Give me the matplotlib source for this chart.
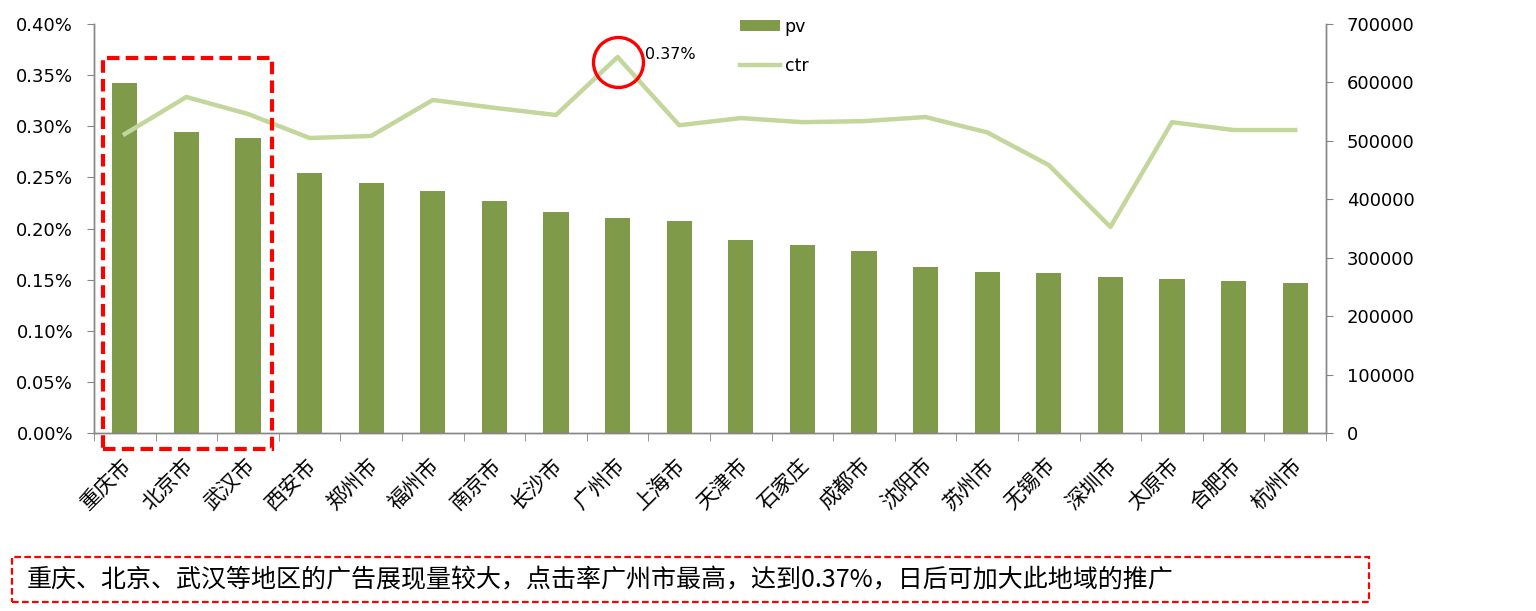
import matplotlib
matplotlib.use("Agg")
import matplotlib.pyplot as plt
from matplotlib.patches import Rectangle, Patch
from matplotlib.lines import Line2D
from matplotlib.ticker import FuncFormatter, MultipleLocator, FixedLocator
import matplotlib.transforms as mtransforms
import numpy as np

plt.rcParams['font.family'] = ['DejaVu Sans', 'Noto Sans CJK SC']

cities = ["重庆市", "北京市", "武汉市", "西安市", "郑州市", "福州市", "南京市", "长沙市",
          "广州市", "上海市", "天津市", "石家庄", "成都市", "沈阳市", "苏州市", "无锡市",
          "深圳市", "太原市", "合肥市", "杭州市"]
pv = [599000, 515000, 505000, 445000, 428000, 414000, 397000, 378000,
      368000, 363000, 330000, 322000, 311000, 284000, 276000, 274000,
      267000, 264000, 260000, 257000]
ctr = [0.2924, 0.3286, 0.3120, 0.2885, 0.2905, 0.3257, 0.3180, 0.3110,
       0.3677, 0.3010, 0.3080, 0.3040, 0.3050, 0.3090, 0.2940, 0.2620,
       0.2015, 0.3040, 0.2963, 0.2963]
note = "重庆、北京、武汉等地区的广告展现量较大，点击率广州市最高，达到0.37%，日后可加大此地域的推广"
peak_label = "0.37%"

bar_color = "#7F9A48"
line_color = "#C3D69B"
axis_gray = "#868686"

fig = plt.figure(figsize=(15.36, 6.11), dpi=100)
ax = fig.add_axes([94/1536, 1-433/611, (1326-94)/1536, (433-24)/611])
ax2 = ax.twinx()

x = np.arange(len(cities))
ax2.bar(x, pv, width=0.41, color=bar_color, zorder=2, label="pv")
ax2.set_ylim(0, 700000)
ax2.yaxis.set_major_locator(MultipleLocator(100000))

ax.set_zorder(ax2.get_zorder() + 1)
ax.patch.set_visible(False)
ax.plot(x, ctr, color=line_color, lw=3.2, label="ctr", zorder=3)
ax.set_ylim(0, 0.40)
ax.set_xlim(-0.5, len(cities) - 0.5)
ax.yaxis.set_major_locator(MultipleLocator(0.05))
ax.yaxis.set_major_formatter(FuncFormatter(lambda v, p: f"{v:.2f}%"))

for a in (ax, ax2):
    a.spines['top'].set_visible(False)
    for s in ('left', 'right', 'bottom'):
        a.spines[s].set_color(axis_gray)
        a.spines[s].set_linewidth(1.0)
ax.tick_params(axis='y', which='major', direction='out', length=5, color=axis_gray,
               labelsize=13, pad=10)
ax2.tick_params(axis='y', which='major', direction='out', length=5, color=axis_gray,
                labelsize=13, pad=10)

ax.set_xticks(x)
ax.set_xticklabels(cities, rotation=45, ha='right', va='top', rotation_mode='anchor',
                   fontsize=15, family=['Noto Sans CJK SC'])
ax.tick_params(axis='x', which='major', length=0, pad=15)
ax.xaxis.set_minor_locator(FixedLocator(np.arange(-0.5, len(cities), 1.0)))
ax.tick_params(axis='x', which='minor', direction='out', length=6, color=axis_gray)
for lbl in ax.get_xticklabels():
    lbl.set_transform(lbl.get_transform() + mtransforms.ScaledTranslation(-4/100, 0, fig.dpi_scale_trans))

# red dashed rectangle around top three
rect = Rectangle((-0.354, -0.0156), 2.744, 0.3823, fill=False, edgecolor='red',
                 linestyle=(0, (3, 1.5)), linewidth=3, clip_on=False, zorder=5,
                 transform=ax.transData)
ax.add_patch(rect)

# red circle at peak
imax = int(np.argmax(ctr))
off = mtransforms.offset_copy(ax.transData, fig=fig, x=0, y=-5, units='dots')
ax.plot([x[imax]], [ctr[imax]], marker='o', markersize=36, mfc='none', mec='red',
        mew=2.4, transform=off, zorder=6, clip_on=False)
ax.annotate(peak_label, (x[imax], ctr[imax]), xytext=(20, 1.5), textcoords='offset points',
            fontsize=11.5, va='center', ha='left')

# legend
handles = [Patch(facecolor=bar_color, edgecolor='none'),
           Line2D([0], [0], color=line_color, lw=3.2)]
leg = ax.legend(handles, ["pv", "ctr"], loc='upper left',
                bbox_to_anchor=(724/1536, 1-2/611), bbox_transform=fig.transFigure,
                frameon=False, fontsize=12.5, handlelength=2.3, handleheight=0.65,
                handletextpad=0.3, labelspacing=1.25)

# bottom note box
fig.patches.append(Rectangle((12/1536, 1-602/611), (1369-12)/1536, (602-557)/611,
                             transform=fig.transFigure, fill=False, edgecolor='red',
                             linestyle=(0, (3, 1.5)), linewidth=1.6))
fig.text(27/1536, 1-580/611, note, fontsize=18, va='center', ha='left',
         family=['Noto Sans CJK SC'])

fig.savefig("out.png", dpi=100)
